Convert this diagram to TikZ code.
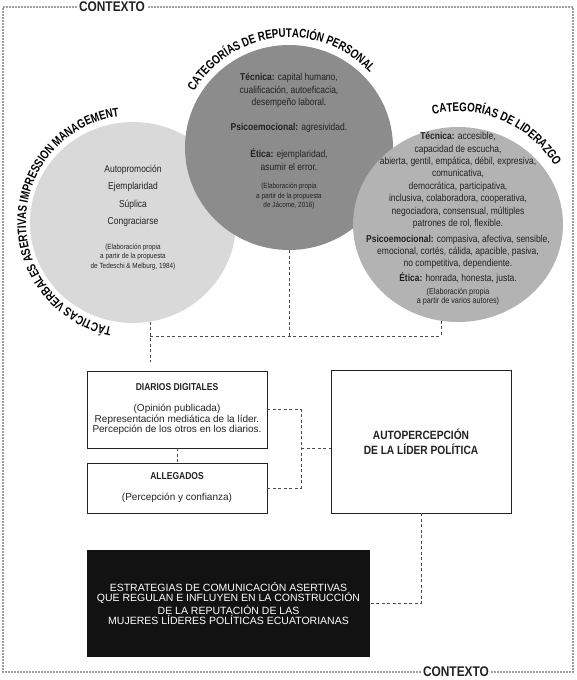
\documentclass[tikz,border=0pt]{standalone}
\usepackage{fontspec}
\setmainfont{Liberation Sans}
\newfontfamily\cnd{Liberation Sans}[FakeStretch=0.85]
\newfontfamily\cndx{Liberation Sans}[FakeStretch=0.78]
\usepackage{tikz}
\usetikzlibrary{positioning,calc,shapes.geometric,decorations.text}
\definecolor{lightdisc}{HTML}{D9D9D9}
\definecolor{darkdisc}{HTML}{8C8C8C}
\definecolor{middisc}{HTML}{B3B3B3}
\definecolor{ink}{HTML}{222222}
\definecolor{framegray}{HTML}{A0A0A0}

\begin{document}
\begin{tikzpicture}[x=1pt, y=1pt,
  disc/.style={ellipse, inner sep=0pt},
  txt/.style={align=center, inner sep=0pt, text=ink, font=\cnd\fontsize{10}{12.4}\selectfont},
  cite/.style={align=center, inner sep=0pt, text=ink, font=\cnd\fontsize{7.5}{9.5}\selectfont},
  box/.style={rectangle, draw=ink, line width=0.8pt, minimum width=180pt, align=center, inner sep=0pt, text=ink, font=\fontsize{10}{10.5}\selectfont},
  link/.style={draw=black!70, line width=0.9pt, dash pattern=on 3pt off 2.5pt},
  frame/.style={draw=framegray, line width=1.5pt, dash pattern=on 1.5pt off 1.5pt},
  ctx/.style={fill=white, inner sep=2pt, text=ink, font=\cnd\bfseries\fontsize{14}{14}\selectfont},
  arclabel/.style={decorate, decoration={text along path, text align=center, text={|\cndx\bfseries\fontsize{12.5}{13}\selectfont|#1}}}
]
  \useasboundingbox (0,0) rectangle (576,-680);

  \node[disc, fill=lightdisc, minimum width=206pt, minimum height=201pt] (tact) at (133,-222.5) {};
  \node[disc, fill=darkdisc, minimum width=208pt, minimum height=205pt] (rep) at (289,-147.5) {};
  \node[disc, fill=middisc, minimum width=210pt, minimum height=195pt] (lid) at (458,-224.5) {};

  \path[arclabel={TÁCTICAS VERBALES ASERTIVAS IMPRESSION MANAGEMENT}] (tact.center) ++(-44:107) arc[start angle=-44, end angle=-320, radius=107];
  \path[arclabel={CATEGORÍAS DE REPUTACIÓN PERSONAL}] (rep.center) ++(180:110) arc[start angle=180, end angle=12, radius=110];
  \path[arclabel={CATEGORÍAS DE LIDERAZGO}] (lid.center) ++(150:113) arc[start angle=150, end angle=-16, radius=113];

  \node[txt, font=\cnd\fontsize{10}{17.5}\selectfont] (tactlist) at (133,-196) {Autopromoción\\Ejemplaridad\\Súplica\\Congraciarse};
  \node[cite] (tactcite) at (133,-257) {(Elaboración propia\\a partir de la propuesta\\de Tedeschi \& Melburg, 1984)};

  \node[txt] (rep1) at (289,-90.5) {\textbf{Técnica:} capital humano,\\cualificación, autoeficacia,\\desempeño laboral.};
  \node[txt] (rep2) at (289,-128) {\textbf{Psicoemocional:} agresividad.};
  \node[txt] (rep3) at (289,-159.5) {\textbf{Ética:} ejemplaridad,\\asumir el error.};
  \node[cite] (repcite) at (289,-196.5) {(Elaboración propia\\a partir de la propuesta\\de Jácome, 2016)};

  \node[txt] (lid1) at (458,-180.5) {\textbf{Técnica:} accesible,\\capacidad de escucha,\\abierta, gentil, empática, débil, expresiva,\\comunicativa,\\democrática, participativa,\\inclusiva, colaboradora, cooperativa,\\negociadora, consensual, múltiples\\patrones de rol, flexible.};
  \node[txt] (lid2) at (458,-252) {\textbf{Psicoemocional:} compasiva, afectiva, sensible,\\emocional, cortés, cálida, apacible, pasiva,\\no competitiva, dependiente.};
  \node[txt] (lid3) at (458,-278) {\textbf{Ética:} honrada, honesta, justa.};
  \node[cite, font=\cnd\fontsize{8.5}{9}\selectfont] (lidcite) at (458,-296.5) {(Elaboración propia\\a partir de varios autores)};

  \node[box, minimum height=77pt] (diarios) at (177,-409.5) {{\cnd\bfseries DIARIOS DIGITALES}\\[10.5pt](Opinión publicada)\\Representación mediática de la líder.\\Percepción de los otros en los diarios.};
  \node[box, minimum height=50pt] (allegados) at (177,-488) {{\cnd\bfseries ALLEGADOS}\\[10.5pt](Percepción y confianza)};
  \node[box, minimum height=143pt, font=\cnd\bfseries\fontsize{12}{15}\selectfont] (auto) at (421,-441.5) {AUTOPERCEPCIÓN\\DE LA LÍDER POLÍTICA};
  \node[rectangle, fill=black!93, minimum width=283pt, minimum height=107pt, text=white, align=center, font=\fontsize{10.5}{10.8}\selectfont] (estrat) at (228.5,-603.5) {ESTRATEGIAS DE COMUNICACIÓN ASERTIVAS\\QUE REGULAN E INFLUYEN EN LA CONSTRUCCIÓN\\DE LA REPUTACIÓN DE LAS\\MUJERES LÍDERES POLÍTICAS ECUATORIANAS};

  \coordinate (busL) at (151,-336);
  \coordinate (tactend) at (151,-362);
  \coordinate (jn) at (301,-448);
  \draw[link] (tact.-80) -- (tact.-80 |- tactend);
  \draw[link] (rep.south) -- (rep.south |- busL);
  \draw[link] (lid.-100) -- (lid.-100 |- busL);
  \draw[link] (tact.-80 |- busL) -- (lid.-100 |- busL);
  \draw[link] (diarios.east) -| (jn) |- (allegados.east);
  \draw[link] (jn) -- (jn -| auto.west);
  \draw[link] (diarios.south) -- (allegados.north);
  \draw[link] (auto.south) |- (estrat.east);

  \node[ctx] (ctxtop) at (112,-7) {CONTEXTO};
  \node[ctx] (ctxbot) at (456,-672) {CONTEXTO};
  \coordinate (fnw) at (3,-7);
  \coordinate (fne) at (573,-7);
  \coordinate (fsw) at (3,-672);
  \coordinate (fse) at (573,-672);
  \draw[frame] (ctxtop.west) -- (fnw) -- (fsw) -- (ctxbot.west);
  \draw[frame] (ctxbot.east) -- (fse) -- (fne) -- (ctxtop.east);
\end{tikzpicture}
\end{document}
